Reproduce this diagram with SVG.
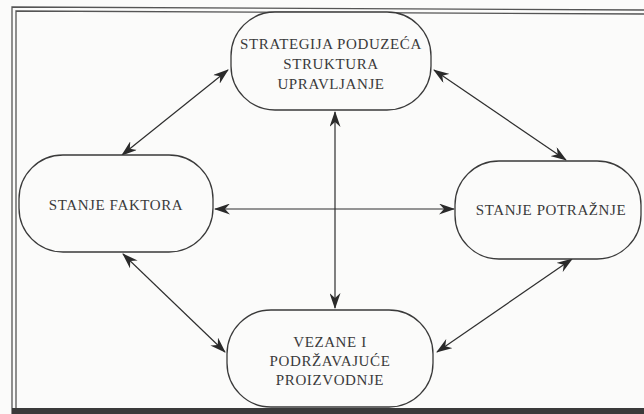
<svg xmlns="http://www.w3.org/2000/svg" width="644" height="414" viewBox="0 0 644 414">
  <defs>
    <marker id="ah" viewBox="0 0 16 11" refX="15" refY="5.5" markerWidth="16" markerHeight="11" markerUnits="userSpaceOnUse" orient="auto-start-reverse">
      <path d="M0,0 L16,5.5 L0,11 L5,5.5 Z" fill="#2a2a2a"/>
    </marker>
    <style>
      .box { fill: #fbfbfa; stroke: #3a3a3a; stroke-width: 1.3; }
      .lbl { font-family: "Liberation Serif", "DejaVu Serif", serif; font-size: 15px; fill: #3a3a3a; text-anchor: middle; letter-spacing: 0.6px; }
      .con { stroke: #2e2e2e; stroke-width: 1.2; fill: none; marker-start: url(#ah); marker-end: url(#ah); }
      .frame { fill: none; stroke: #555; stroke-width: 1.3; }
    </style>
  </defs>
  <rect x="0" y="0" width="644" height="414" fill="#fbfbfa"/>
  <g id="frame">
    <path class="frame" d="M12,414 L12,7 L644,10"/>
    <path class="frame" d="M16,410 L16,11 L644,14"/>
    <rect x="12" y="408" width="632" height="6" fill="#3a3a3a"/>
  </g>
  <g id="connectors">
    <line class="con" x1="228" y1="70" x2="122" y2="155"/>
    <line class="con" x1="434" y1="70" x2="566" y2="160"/>
    <line class="con" x1="123" y1="254" x2="225" y2="352"/>
    <line class="con" x1="572" y1="259" x2="437" y2="352"/>
    <line class="con" x1="215" y1="209" x2="454" y2="209"/>
    <line class="con" x1="335" y1="112" x2="335" y2="308"/>
  </g>
  <g id="node-strategija">
    <rect class="box" x="231" y="12" width="200" height="98" rx="44" ry="44"/>
    <text class="lbl" x="331" y="49">STRATEGIJA PODUZEĆA</text>
    <text class="lbl" x="331" y="69">STRUKTURA</text>
    <text class="lbl" x="331" y="89">UPRAVLJANJE</text>
  </g>
  <g id="node-faktora">
    <rect class="box" x="19" y="155" width="194" height="97" rx="44" ry="44"/>
    <text class="lbl" x="116" y="210">STANJE FAKTORA</text>
  </g>
  <g id="node-potraznje">
    <rect class="box" x="455" y="161" width="186" height="98" rx="44" ry="44"/>
    <text class="lbl" x="551" y="215">STANJE POTRAŽNJE</text>
  </g>
  <g id="node-vezane">
    <rect class="box" x="227" y="310" width="206" height="97" rx="44" ry="44"/>
    <text class="lbl" x="330" y="347">VEZANE I</text>
    <text class="lbl" x="330" y="366">PODRŽAVAJUĆE</text>
    <text class="lbl" x="330" y="385">PROIZVODNJE</text>
  </g>
</svg>
